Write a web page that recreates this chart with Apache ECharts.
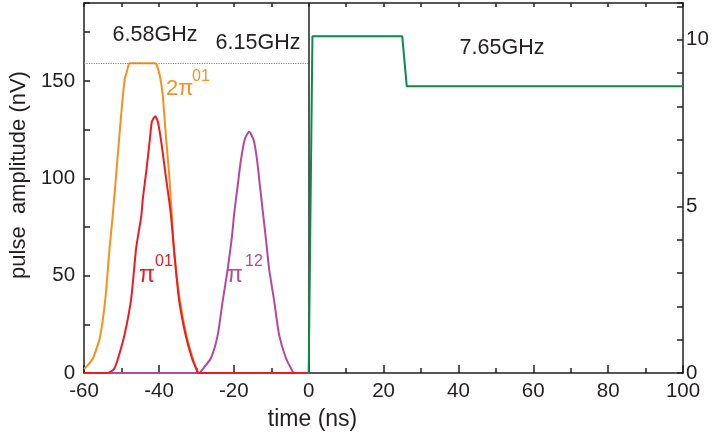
<!DOCTYPE html>
<html>
<head>
<meta charset="utf-8">
<script src="https://cdn.jsdelivr.net/npm/echarts@6/dist/echarts.min.js"></script>
<style>
html,body{margin:0;padding:0;background:#fff;}
#c{width:715px;height:439px;}
</style>
</head>
<body>
<div id="c"></div>
<script>
// 2π01 pulse (orange) — [time ns, amplitude nV]
const orangeData = [[-60,2],[-59,4],[-57.6,7.7],[-55.8,18],[-54.3,38.5],[-53.2,64],[-52.3,82],[-51.0,112],[-50.1,132.5],[-49.2,150.4],[-48.5,155.3],[-47.9,159],[-41.0,159],[-39.9,153.8],[-39.0,142.7],[-38.1,120.5],[-37.2,100],[-36.6,82],[-35.9,60.7],[-34.5,38.5],[-32.7,19.6],[-31.0,7.7],[-29.6,0.5],[-29.2,0],[0,0]];
// π01 pulse (red)
const redData = [[-60,0],[-53.8,0],[-52,2],[-50.9,7.7],[-49.2,19.6],[-47.4,38.5],[-46.1,64],[-44.7,81],[-44.3,89.7],[-43.4,103.4],[-42.5,118.8],[-41.9,129],[-41.0,131.9],[-40.3,129],[-39.4,118.8],[-38.1,100],[-36.9,82.9],[-36.0,64],[-34.7,38.5],[-32.9,19.6],[-31.2,7.7],[-29.8,1],[-29.5,0],[0,0]];
// π12 pulse (purple)
const purpleData = [[-60,0],[-29.0,0],[-28.8,0.8],[-26.1,7.7],[-24.3,19.6],[-23.0,36.7],[-21.6,53.8],[-20.5,70],[-19.9,82],[-19.0,95.7],[-18.1,109.4],[-17.0,120.5],[-15.9,123.9],[-14.7,119.6],[-13.8,109.4],[-13.0,95.7],[-12.2,82],[-11.4,68.4],[-10.6,53.8],[-9.2,36.7],[-7.9,19.6],[-6.1,7.7],[-4.3,0.8],[-4.0,0],[0,0]];
// 7.65GHz readout pulse (green, right axis)
const greenData = [[0,0],[1,10.1],[25,10.1],[26.2,8.6],[100,8.6]];
// reference levels
const dottedLevel = 159;
const divider = 0;
// axes ranges
const xRange = [-60, 100];
const yLeftRange = [0, 190];
const yRightRange = [0, 11.1];
// annotation texts
const freqLabels = ['6.58GHz', '6.15GHz', '7.65GHz'];

const font = "'Liberation Sans', Arial, sans-serif";
const axisColor = '#231f20';
const C = {orange:'#f7901e', red:'#ed1c24', purple:'#b5489c', green:'#0b8a4b'};
const tickFont = 20.5;

const chart = echarts.init(document.getElementById('c'));
chart.setOption({
  animation: false,
  backgroundColor: '#fff',
  grid: {left: 83, right: 32, top: 3, bottom: 66, containLabel: false},
  xAxis: [{
    type: 'value', min: xRange[0], max: xRange[1], interval: 20,
    position: 'bottom',
    name: 'time (ns)', nameLocation: 'middle', nameGap: 35,
    nameTextStyle: {fontFamily: font, fontSize: 23, color: axisColor, padding: [0, 142, 0, 0]},
    axisLine: {onZero: false, lineStyle: {color: axisColor, width: 1.5}},
    axisTick: {inside: true, length: 8, lineStyle: {color: axisColor, width: 1.5}},
    minorTick: {show: true, splitNumber: 2, length: 5, lineStyle: {color: axisColor, width: 1.5}},
    axisLabel: {fontFamily: font, fontSize: tickFont, color: axisColor, margin: 8},
    splitLine: {show: false}
  }, {
    type: 'value', min: xRange[0], max: xRange[1], interval: 10,
    position: 'top',
    axisLine: {onZero: false, lineStyle: {color: axisColor, width: 1.5}},
    axisTick: {inside: true, length: 4, lineStyle: {color: axisColor, width: 1.5}},
    axisLabel: {show: false},
    splitLine: {show: false}
  }],
  yAxis: [{
    type: 'value', min: yLeftRange[0], max: yLeftRange[1], interval: 25,
    position: 'left',
    name: 'pulse  amplitude (nV)', nameLocation: 'middle', nameGap: 50,
    nameTextStyle: {fontFamily: font, fontSize: 22, color: axisColor, padding: [0, 0, 0, 26]},
    axisLine: {onZero: false, lineStyle: {color: axisColor, width: 1.5}},
    axisTick: {inside: true, length: 6, lineStyle: {color: axisColor, width: 1.5}},
    axisLabel: {fontFamily: font, fontSize: tickFont, color: axisColor, margin: 9,
      formatter: v => (v % 50 === 0 ? String(v) : '')},
    splitLine: {show: false}
  }, {
    type: 'value', min: yRightRange[0], max: yRightRange[1], interval: 1,
    position: 'right',
    axisLine: {onZero: false, lineStyle: {color: axisColor, width: 1.5}},
    axisTick: {inside: true, length: 6, lineStyle: {color: axisColor, width: 1.5}},
    axisLabel: {fontFamily: font, fontSize: tickFont, color: axisColor, margin: 3,
      formatter: v => (v % 5 === 0 ? String(v) : '')},
    splitLine: {show: false}
  }],
  series: [{
    type: 'line', data: orangeData, xAxisIndex: 0, yAxisIndex: 0,
    showSymbol: false, symbol: 'none', smooth: 0.15,
    lineStyle: {color: C.orange, width: 2}, itemStyle: {color: C.orange},
    markLine: {
      silent: true, symbol: 'none', label: {show: false},
      lineStyle: {color: '#8a8a8a', type: 'dotted', width: 1.2},
      data: [[{coord: [xRange[0], dottedLevel]}, {coord: [divider, dottedLevel]}]]
    },
    z: 3
  }, {
    type: 'line', data: redData, xAxisIndex: 0, yAxisIndex: 0,
    showSymbol: false, symbol: 'none', smooth: 0.2,
    lineStyle: {color: C.red, width: 2}, itemStyle: {color: C.red}, z: 4
  }, {
    type: 'line', data: purpleData, xAxisIndex: 0, yAxisIndex: 0,
    showSymbol: false, symbol: 'none', smooth: 0.2,
    lineStyle: {color: C.purple, width: 2}, itemStyle: {color: C.purple}, z: 2
  }, {
    type: 'line', data: greenData, xAxisIndex: 0, yAxisIndex: 1,
    showSymbol: false, symbol: 'none',
    lineStyle: {color: C.green, width: 2}, itemStyle: {color: C.green},
    markLine: {
      silent: true, symbol: 'none', label: {show: false},
      lineStyle: {color: axisColor, type: 'solid', width: 1.5},
      data: [{xAxis: divider}]
    },
    z: 5
  }],
  graphic: [
    {type: 'text', x: 155, y: 35, style: {text: freqLabels[0], font: '21.5px ' + font, fill: axisColor, align: 'center', verticalAlign: 'middle'}},
    {type: 'text', x: 258, y: 43, style: {text: freqLabels[1], font: '21.5px ' + font, fill: axisColor, align: 'center', verticalAlign: 'middle'}},
    {type: 'text', x: 502, y: 48, style: {text: freqLabels[2], font: '21.5px ' + font, fill: axisColor, align: 'center', verticalAlign: 'middle'}},
    {type: 'text', x: 166, y: 89, style: {text: '2π', font: '22px ' + font, fill: C.orange, align: 'left', verticalAlign: 'middle'}},
    {type: 'text', x: 192, y: 77, style: {text: '01', font: '16px ' + font, fill: C.orange, align: 'left', verticalAlign: 'middle'}},
    {type: 'text', x: 139, y: 276, style: {text: 'π', font: '23px ' + font, fill: C.red, align: 'left', verticalAlign: 'middle'}},
    {type: 'text', x: 155, y: 262, style: {text: '01', font: '16px ' + font, fill: C.red, align: 'left', verticalAlign: 'middle'}},
    {type: 'text', x: 227, y: 276, style: {text: 'π', font: '23px ' + font, fill: C.purple, align: 'left', verticalAlign: 'middle'}},
    {type: 'text', x: 245, y: 262, style: {text: '12', font: '16px ' + font, fill: C.purple, align: 'left', verticalAlign: 'middle'}}
  ]
});
</script>
</body>
</html>
